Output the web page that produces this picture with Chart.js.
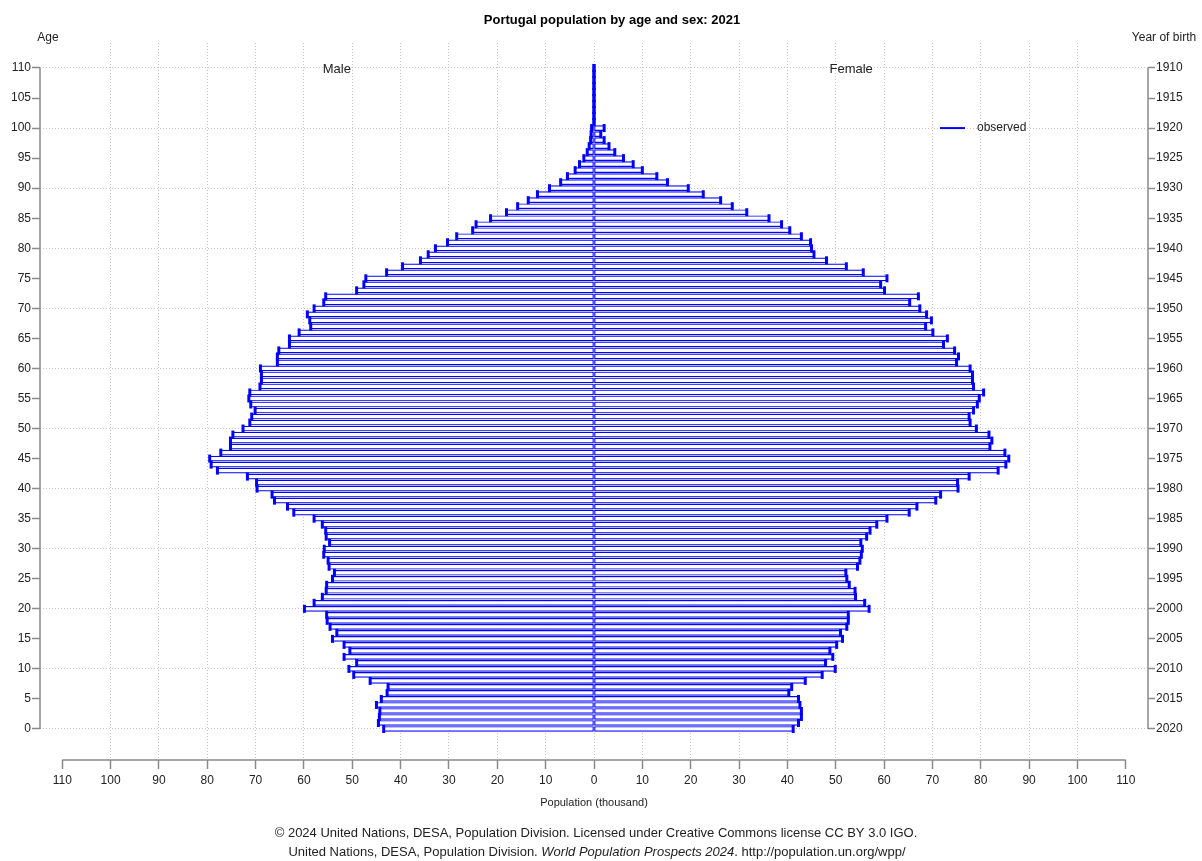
<!DOCTYPE html>
<html>
<head>
<meta charset="utf-8">
<title>Portugal population by age and sex: 2021</title>
<script src="https://cdn.jsdelivr.net/npm/chart.js@4.4.1/dist/chart.umd.min.js"></script>
<style>
  html, body { margin: 0; padding: 0; background: #fff; }
  canvas { display: block; }
</style>
</head>
<body>
<canvas id="pyramid" width="1202" height="861"></canvas>
<script>
// ages 0..110 (single years), population in thousands
const ages = Array.from({ length: 111 }, (_, i) => i);

const male = [
  43.5, 44.6, 44.4, 44.3, 45.0, 44.0, 42.8, 42.6, 46.3, 49.7,
  50.7, 49.1, 51.7, 50.5, 51.7, 54.1, 53.2, 54.6, 55.2, 55.3,
  59.9, 57.9, 56.2, 55.4, 55.3, 54.1, 53.7, 54.8, 55.0, 55.9,
  55.8, 54.7, 55.4, 55.5, 56.2, 57.9, 62.1, 63.4, 66.1, 66.6,
  69.7, 69.8, 71.7, 77.9, 79.2, 79.5, 77.2, 75.2, 75.2, 74.7,
  72.6, 71.2, 70.8, 70.1, 71.0, 71.4, 71.2, 69.1, 68.8, 68.8,
  69.0, 65.5, 65.5, 65.2, 63.0, 63.0, 61.0, 58.6, 58.8, 59.3,
  57.9, 55.9, 55.5, 49.1, 47.6, 47.2, 42.9, 39.6, 35.9, 34.3,
  32.8, 30.3, 28.4, 25.1, 24.4, 21.4, 18.1, 15.8, 13.6, 11.7,
  9.2, 6.9, 5.5, 3.9, 3.0, 2.1, 1.4, 1.0, 0.7, 0.6,
  0.5, 0, 0, 0, 0, 0, 0, 0, 0, 0, 0
];

const female = [
  41.2, 42.3, 42.9, 42.9, 42.6, 42.3, 40.3, 40.9, 43.7, 47.2,
  49.9, 47.9, 49.4, 48.8, 50.2, 51.4, 51.0, 52.3, 52.6, 52.6,
  56.9, 56.0, 54.1, 54.0, 52.8, 52.3, 52.1, 54.5, 55.0, 55.3,
  55.5, 55.2, 56.4, 57.1, 58.5, 60.6, 65.2, 66.8, 70.7, 71.7,
  75.3, 75.2, 77.6, 83.6, 85.2, 85.8, 85.0, 81.9, 82.3, 81.7,
  79.1, 77.8, 77.6, 78.5, 79.3, 79.7, 80.6, 78.5, 78.3, 78.3,
  77.8, 75.0, 75.4, 74.6, 72.3, 73.1, 70.1, 68.6, 69.8, 68.8,
  67.4, 65.3, 67.1, 60.1, 59.3, 60.6, 55.7, 52.2, 48.1, 45.5,
  45.0, 44.8, 42.9, 40.5, 38.8, 36.2, 31.6, 28.6, 26.2, 22.6,
  19.5, 15.2, 13.0, 10.0, 8.1, 6.1, 4.3, 3.1, 2.1, 1.4,
  2.1, 0, 0, 0, 0, 0, 0, 0, 0, 0, 0
];

const popTicks = [-110, -100, -90, -80, -70, -60, -50, -40, -30, -20, -10, 0,
                  10, 20, 30, 40, 50, 60, 70, 80, 90, 100, 110];
const ageTicks = [0, 5, 10, 15, 20, 25, 30, 35, 40, 45, 50, 55,
                  60, 65, 70, 75, 80, 85, 90, 95, 100, 105, 110];
const refYear = 2020;

const BLUE = '#0000ff';
const AXIS = '#8a8a8a';
const GRID = '#c4c4c4';
const FONT = "'Liberation Sans', Arial, sans-serif";

const malePts = ages.map((a, i) => ({ x: -male[i], y: a }));
const femalePts = ages.map((a, i) => ({ x: female[i], y: a }));

function fixTicks(list) {
  return scale => { scale.ticks = list.map(v => ({ value: v })); };
}

// titles, detached axis lines, legend, credits
const decorations = {
  id: 'decorations',
  afterDraw(chart) {
    const { ctx, chartArea, scales } = chart;
    const x = scales.x, y = scales.y;
    ctx.save();

    ctx.strokeStyle = AXIS;
    ctx.lineWidth = 1.5;
    ctx.beginPath();
    const yb = chartArea.bottom;
    ctx.moveTo(x.getPixelForValue(popTicks[0]), yb);
    ctx.lineTo(x.getPixelForValue(popTicks[popTicks.length - 1]), yb);
    const yTop = y.getPixelForValue(ageTicks[ageTicks.length - 1]);
    const yBot = y.getPixelForValue(ageTicks[0]);
    ctx.moveTo(chartArea.left, yTop);
    ctx.lineTo(chartArea.left, yBot);
    ctx.moveTo(chartArea.right, yTop);
    ctx.lineTo(chartArea.right, yBot);
    ctx.stroke();

    ctx.fillStyle = '#000';
    ctx.textBaseline = 'middle';
    ctx.textAlign = 'center';
    ctx.font = 'bold 13px ' + FONT;
    ctx.fillText('Portugal population by age and sex: 2021', 612, 20);

    ctx.font = '12px ' + FONT;
    ctx.fillStyle = '#222';
    ctx.fillText('Age', 48, 38);
    ctx.fillText('Year of birth', 1164, 38);

    ctx.font = '13px ' + FONT;
    ctx.fillText('Male', x.getPixelForValue(-53.2), y.getPixelForValue(110) + 1);
    ctx.fillText('Female', x.getPixelForValue(53.2), y.getPixelForValue(110) + 1);

    // legend
    const ly = y.getPixelForValue(100);
    ctx.strokeStyle = BLUE;
    ctx.lineWidth = 2;
    ctx.beginPath();
    ctx.moveTo(940, ly);
    ctx.lineTo(965, ly);
    ctx.stroke();
    ctx.textAlign = 'left';
    ctx.font = '12px ' + FONT;
    ctx.fillText('observed', 977, ly);

    ctx.textAlign = 'center';
    ctx.font = '11px ' + FONT;
    ctx.fillText('Population (thousand)', x.getPixelForValue(0), 803);

    ctx.font = '13px ' + FONT;
    ctx.fillText('\u00a9 2024 United Nations, DESA, Population Division. Licensed under Creative Commons license CC BY 3.0 IGO.', 596, 833);

    const p1 = 'United Nations, DESA, Population Division. ';
    const p2 = 'World Population Prospects 2024';
    const p3 = '. http://population.un.org/wpp/';
    ctx.font = '13px ' + FONT;
    const w1 = ctx.measureText(p1).width, w3 = ctx.measureText(p3).width;
    ctx.font = 'italic 13px ' + FONT;
    const w2 = ctx.measureText(p2).width;
    let sx = 597 - (w1 + w2 + w3) / 2;
    ctx.textAlign = 'left';
    ctx.font = '13px ' + FONT;
    ctx.fillText(p1, sx, 852);
    ctx.font = 'italic 13px ' + FONT;
    ctx.fillText(p2, sx + w1, 852);
    ctx.font = '13px ' + FONT;
    ctx.fillText(p3, sx + w1 + w2, 852);

    ctx.restore();
  }
};

const ctx = document.getElementById('pyramid').getContext('2d');
const pyramid = new Chart(ctx, {
  type: 'bar',
  data: {
    datasets: [
      {
        type: 'line', label: 'male ends', data: malePts, showLine: false,
        pointStyle: 'line', rotation: 90, radius: 4, hoverRadius: 4,
        borderWidth: 3, borderColor: BLUE, order: 0
      },
      {
        type: 'line', label: 'female ends', data: femalePts, showLine: false,
        pointStyle: 'line', rotation: 90, radius: 4, hoverRadius: 4,
        borderWidth: 3, borderColor: BLUE, order: 0
      },
      {
        label: 'Male', data: malePts, backgroundColor: '#ffffff', borderColor: BLUE,
        borderWidth: 1.2, borderSkipped: false, barThickness: 5, grouped: false, order: 1
      },
      {
        label: 'Female', data: femalePts, backgroundColor: '#ffffff', borderColor: BLUE,
        borderWidth: 1.2, borderSkipped: false, barThickness: 5, grouped: false, order: 1
      }
    ]
  },
  options: {
    indexAxis: 'y',
    responsive: false,
    animation: false,
    layout: { padding: { top: 43, left: 0, right: 0, bottom: 0 } },
    plugins: {
      legend: { display: false },
      tooltip: { enabled: false }
    },
    scales: {
      x: {
        type: 'linear', position: 'bottom', min: -114.6, max: 114.6,
        afterBuildTicks: fixTicks(popTicks),
        afterFit: s => { s.height = 101; },
        ticks: {
          callback: v => Math.abs(v), autoSkip: false, maxRotation: 0,
          font: { family: FONT, size: 12 }, color: '#222', padding: 4
        },
        grid: {
          color: c => (c.tick && Math.abs(c.tick.value) <= 100) ? GRID : 'rgba(0,0,0,0)',
          tickColor: AXIS, tickWidth: 1.5, tickLength: 9
        },
        border: { display: false, dash: [1, 2] }
      },
      y: {
        type: 'linear', position: 'left', min: -5.16, max: 114.16, offset: false,
        afterBuildTicks: fixTicks(ageTicks),
        afterFit: s => { s.width = 40; },
        ticks: {
          autoSkip: false, font: { family: FONT, size: 12 }, color: '#222', padding: 1
        },
        grid: {
          offset: false,
          color: c => (c.tick && c.tick.value % 10 === 0) ? GRID : 'rgba(0,0,0,0)',
          tickColor: AXIS, tickWidth: 1.5, tickLength: 8
        },
        border: { display: false, dash: [1, 2] }
      },
      yr: {
        type: 'linear', position: 'right', min: -5.16, max: 114.16, offset: false,
        afterBuildTicks: fixTicks(ageTicks),
        afterFit: s => { s.width = 54; },
        ticks: {
          callback: v => refYear - v, autoSkip: false,
          font: { family: FONT, size: 12 }, color: '#222', padding: 1
        },
        grid: { offset: false, drawOnChartArea: false, tickColor: AXIS, tickWidth: 1.5, tickLength: 7 },
        border: { display: false }
      }
    }
  },
  plugins: [decorations]
});
</script>
</body>
</html>
